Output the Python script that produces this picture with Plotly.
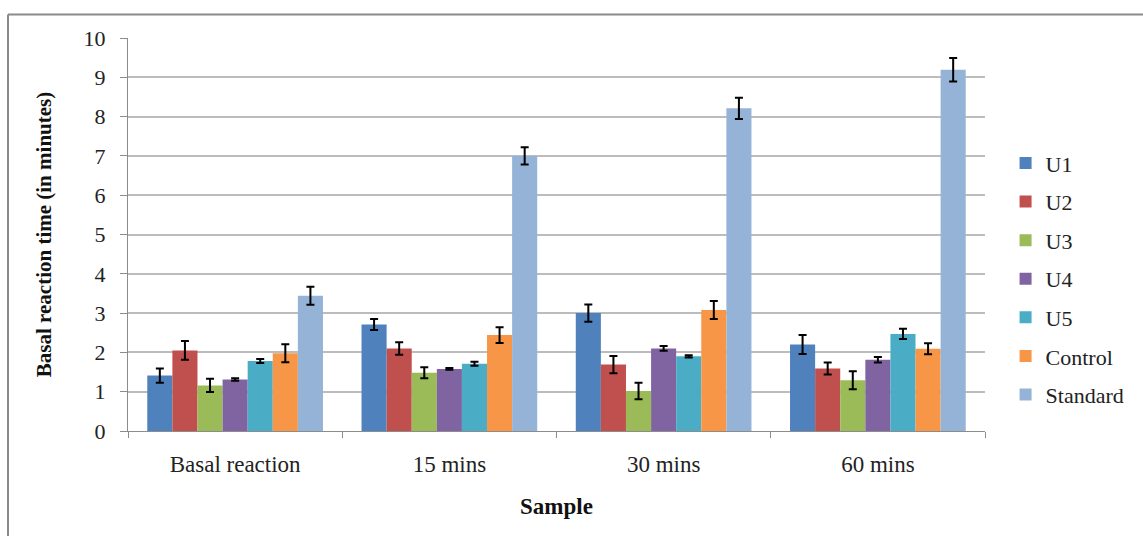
import plotly.graph_objects as go

categories = ["Basal reaction", "15 mins", "30 mins", "60 mins"]
series_names = ["U1", "U2", "U3", "U4", "U5", "Control", "Standard"]
u1 = [1.41, 2.71, 3.00, 2.20]
u2 = [2.05, 2.10, 1.69, 1.59]
u3 = [1.16, 1.48, 1.02, 1.29]
u4 = [1.31, 1.58, 2.10, 1.81]
u5 = [1.78, 1.71, 1.90, 2.47]
control = [1.98, 2.44, 3.08, 2.09]
standard = [3.44, 7.00, 8.21, 9.19]
u1_err = [0.18, 0.14, 0.22, 0.24]
u2_err = [0.24, 0.16, 0.22, 0.15]
u3_err = [0.17, 0.14, 0.21, 0.23]
u4_err = [0.03, 0.02, 0.06, 0.07]
u5_err = [0.05, 0.05, 0.03, 0.13]
control_err = [0.23, 0.20, 0.23, 0.14]
standard_err = [0.23, 0.22, 0.27, 0.30]

values = [u1, u2, u3, u4, u5, control, standard]
errors = [u1_err, u2_err, u3_err, u4_err, u5_err, control_err, standard_err]
colors = ["#4F81BD", "#C0504D", "#9BBB59", "#8064A2", "#4BACC6", "#F79646", "#95B3D7"]

FONT = "'Liberation Serif', serif"

fig = go.Figure()
for name, vals, errs, col in zip(series_names, values, errors, colors):
    fig.add_trace(go.Bar(
        name=name, x=categories, y=vals, legendgroup=name,
        marker=dict(color=col, line=dict(width=0)),
        error_y=dict(type="data", array=errs, visible=True, color="black",
                     thickness=2, width=4),
    ))

W, H = 1143, 536
L, R, T, B = 128, 158, 38, 105
pw, ph = W - L - R, H - T - B

def px_x(p):
    return (p - L) / pw

def px_y(p):
    return (H - B - p) / ph

fig.update_layout(
    width=W, height=H,
    margin=dict(l=L, r=R, t=T, b=B, autoexpand=False),
    paper_bgcolor="white", plot_bgcolor="white",
    barmode="group", bargap=0.18, bargroupgap=0,
    font=dict(family=FONT, size=22, color="#222"),
    legend=dict(x=1.024, y=0.735, xanchor="left", yanchor="top",
                font=dict(family=FONT, size=22, color="#222"),
                tracegroupgap=7, itemwidth=30, bgcolor="rgba(0,0,0,0)"),
    xaxis=dict(
        showline=True, linecolor="#8c8c8c", linewidth=1,
        ticks="outside", tickson="boundaries", ticklen=6, tickcolor="#8c8c8c",
        tickfont=dict(family=FONT, size=23, color="#222"),
        ticklabelstandoff=12,
        title=dict(text="<b>Sample</b>", font=dict(family=FONT, size=23, color="#111"), standoff=22),
        showgrid=False, automargin=False,
    ),
    yaxis=dict(
        range=[0, 10], dtick=1,
        showline=True, linecolor="#8c8c8c", linewidth=1,
        ticks="outside", ticklen=7, tickcolor="#8c8c8c",
        ticklabelstandoff=10,
        showgrid=True, gridcolor="#bcbcbc", gridwidth=1.5,
        tickfont=dict(family=FONT, size=22, color="#222"),
        title=dict(text="<b>Basal reaction time (in minutes)</b>",
                   font=dict(family=FONT, size=21, color="#111"), standoff=26),
        zeroline=False, automargin=False,
    ),
    shapes=[
        dict(type="line", xref="paper", yref="paper",
             x0=px_x(8), x1=px_x(1143), y0=px_y(14.5), y1=px_y(14.5),
             line=dict(color="#8a8a8a", width=2)),
        dict(type="line", xref="paper", yref="paper",
             x0=px_x(8), x1=px_x(8), y0=px_y(14.5), y1=px_y(536),
             line=dict(color="#8a8a8a", width=2)),
    ],
)

fig.write_html("out.html", config={"displayModeBar": False},
               post_script="document.body.style.margin='0';")
